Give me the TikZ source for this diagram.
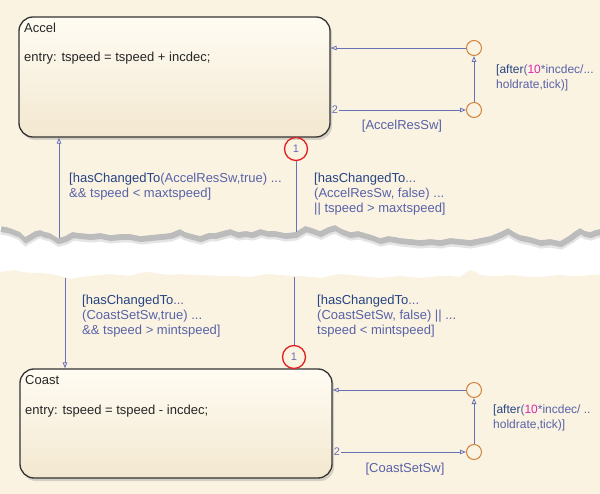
\documentclass[tikz,border=0pt]{standalone}
\usepackage{fontspec}
\setmainfont{Liberation Sans}
\usetikzlibrary{arrows.meta,shadows}

\definecolor{chartbg}{RGB}{251,243,226}
\definecolor{boxtop}{RGB}{255,252,243}
\definecolor{boxbot}{RGB}{243,232,208}
\definecolor{transcol}{RGB}{104,112,182}
\definecolor{lblcol}{RGB}{88,98,168}
\definecolor{fncol}{RGB}{38,68,130}
\definecolor{numcol}{RGB}{212,40,170}
\definecolor{juncol}{RGB}{206,132,62}
\definecolor{priocol}{RGB}{226,30,30}

\newcommand{\fn}[1]{\textcolor{fncol}{#1}}
\newcommand{\numlit}[1]{\textcolor{numcol}{#1}}

% torn paper edges
\def\tornup{plot coordinates {(0,226) (6,227) (10,228) (15,230) (20,232) (25,237) (30,234) (35,231) (40,230) (45,232) (50,233) (58,238) (65,236) (72,232) (80,233) (90,234) (100,233) (110,235) (120,234) (130,234) (140,236) (150,235) (160,234) (170,233) (180,229) (185,232) (192,234) (200,236) (208,233) (215,233) (222,231) (230,229) (238,232) (245,231) (252,232) (260,229) (268,231) (275,231) (285,233) (295,232) (300,229) (305,226) (312,228) (320,231) (328,227) (335,225) (342,229) (350,232) (358,231) (365,233) (372,235) (380,238) (388,236) (395,237) (400,238) (410,239) (420,240) (430,239) (440,240) (450,238) (460,239) (470,240) (480,238) (490,236) (500,232) (508,228) (514,232) (520,235) (530,237) (540,240) (550,239) (560,241) (565,238) (570,235) (575,231) (580,228) (585,231) (590,232) (595,230) (600,229)}}
\def\torndown{plot coordinates {(0,272) (8,271) (15,270) (22,272) (30,273) (40,273) (50,274) (60,276) (70,279) (80,277) (90,276) (100,275) (110,274) (120,275) (130,276) (140,273) (150,272) (160,274) (170,275) (180,274) (190,275) (205,275) (220,276) (235,276) (250,277) (260,275) (270,274) (280,275) (290,276) (300,276) (310,277) (320,278) (330,276) (340,274) (350,275) (360,276) (370,277) (380,278) (390,277) (400,276) (410,277) (420,278) (430,277) (440,276) (450,276) (460,277) (465,273) (470,270) (475,272) (480,275) (490,276) (500,276) (510,275) (520,276) (530,277) (540,277) (550,276) (560,275) (570,276) (580,276) (590,275) (600,275)}}

\begin{document}
\begin{tikzpicture}[x=1pt,y=-1pt,
  state/.style={draw=black!80, line width=1.3pt, rounded corners=14pt,
    top color=boxtop, bottom color=boxbot, inner sep=0pt,
    drop shadow={opacity=0.3, shadow xshift=2pt, shadow yshift=-3pt}},
  boxtxt/.style={anchor=west, inner sep=0pt, text=black!85,
    font=\fontsize{13}{15}\selectfont},
  lbl/.style={anchor=north west, inner sep=0pt, align=left, text=lblcol,
    font=\fontsize{13}{15}\selectfont},
  afterlbl/.style={lbl, font=\fontsize{12}{15}\selectfont},
  junction/.style={circle, draw=juncol, line width=1pt, minimum size=15pt, inner sep=0pt},
  prio/.style={circle, draw=priocol, line width=1.3pt, minimum size=23pt, inner sep=0pt,
    text=transcol, font=\fontsize{11}{12}\selectfont},
  prionum/.style={inner sep=1pt, text=transcol, font=\fontsize{11}{12}\selectfont},
  line/.style={draw=transcol, line width=0.8pt},
  trans/.style={line, -{Triangle[open, length=6pt, width=4.5pt]}}]

  \useasboundingbox (0,0) rectangle (600,494);
  \fill[white] (0,0) rectangle (600,494);
  \fill[chartbg] \torndown -- (600,494) -- (0,494) -- cycle;
  \draw[black!35, line width=9pt, opacity=0.3, shift={(1,4)}] \tornup;
  \draw[black!45, line width=6pt, opacity=0.45, shift={(1,3)}] \tornup;
  \fill[chartbg] \tornup -- (600,0) -- (0,0) -- cycle;

  % states
  \node (accel) at (174.5,77) [state, minimum width=311pt, minimum height=120pt] {};
  \node (acceltitle) at (24,28) [boxtxt] {Accel};
  \node (accelentry) at (24,58) [boxtxt] {entry: tspeed = tspeed + incdec;};

  \node (coast) at (176,423.5) [state, minimum width=312pt, minimum height=109pt] {};
  \node (coasttitle) at (25,380) [boxtxt] {Coast};
  \node (coastentry) at (25,411) [boxtxt] {entry: tspeed = tspeed - incdec;};

  % junctions
  \node (accj1) at (474,48) [junction] {};
  \node (accj2) at (474,110) [junction] {};
  \node (coaj1) at (474,390) [junction] {};
  \node (coaj2) at (474,452) [junction] {};

  \draw[trans] (accj1) -- (accel.east |- accj1);
  \node (acctwo) at (accel.east |- accj2) [prionum, anchor=west] {2};
  \draw[trans] (acctwo) -- (accj2);
  \draw[trans] (accj2) -- (accj1);

  \draw[trans] (coaj1) -- (coast.east |- coaj1);
  \node (coatwo) at (coast.east |- coaj2) [prionum, anchor=west] {2};
  \draw[trans] (coatwo) -- (coaj2);
  \draw[trans] (coaj2) -- (coaj1);

  % transitions through the tear
  \coordinate (atearl) at (59,238);
  \draw[trans] (atearl) -- (atearl |- accel.south);
  \node (aprio) at (296,149) [prio] {1};
  \coordinate (atearr) at (296,232);
  \draw[line] (aprio |- accel.south) -- (aprio.north);
  \draw[line] (aprio.south) -- (atearr);

  \coordinate (ctearl) at (65,278);
  \draw[trans] (ctearl) -- (ctearl |- coast.north);
  \node (cprio) at (294,357) [prio] {1};
  \coordinate (ctearr) at (294,277);
  \draw[line] (ctearr) -- (cprio.north);

  % labels
  \node (accupl) at (69,173) [lbl] {\fn{[hasChangedTo}(AccelResSw,true) ...\\\&\& tspeed < maxtspeed]};
  \node (accdownl) at (314,173) [lbl] {\fn{[hasChangedTo}...\\(AccelResSw, false) ...\\|| tspeed > maxtspeed]};
  \node (coaupl) at (82,295) [lbl] {\fn{[hasChangedTo}...\\(CoastSetSw,true) ...\\\&\& tspeed > mintspeed]};
  \node (coadownl) at (317,295) [lbl] {\fn{[hasChangedTo}...\\(CoastSetSw, false) || ...\\tspeed < mintspeed]};
  \node (accafter) at (496,65) [afterlbl] {\fn{[after}(\numlit{10}*incdec/...\\holdrate,tick)]};
  \node (coaafter) at (493,405) [afterlbl] {\fn{[after}(\numlit{10}*incdec/ ..\\holdrate,tick)]};
  \node (accsw) at (402,126) [lbl, anchor=center] {[AccelResSw]};
  \node (coasw) at (405,469) [lbl, anchor=center] {[CoastSetSw]};
\end{tikzpicture}
\end{document}
